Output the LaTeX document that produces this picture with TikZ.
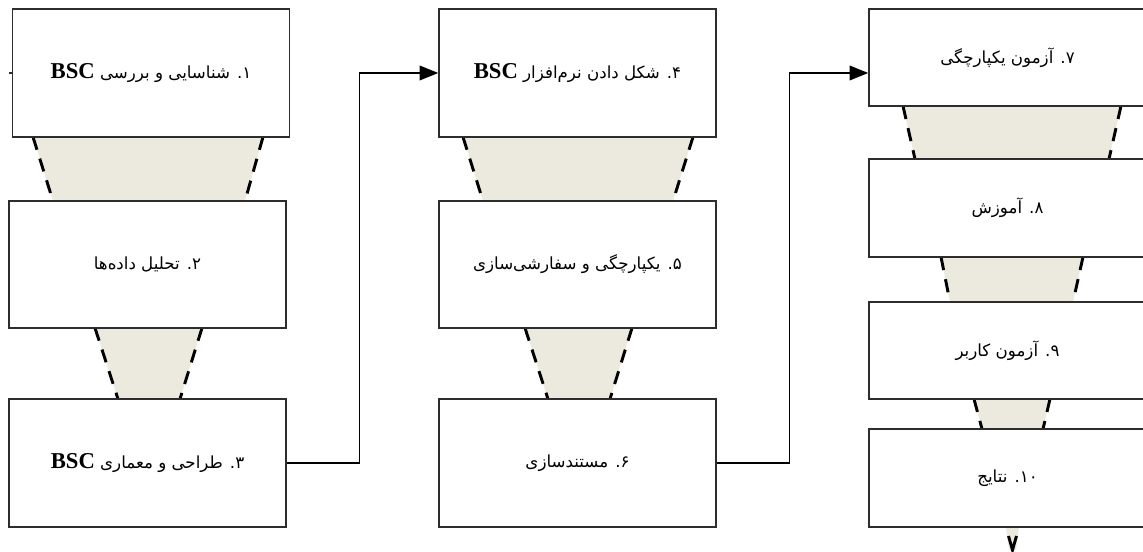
\documentclass[tikz,border=0pt]{standalone}
\usepackage{fontspec}
\usepackage{tikz}
\usetikzlibrary{arrows.meta,positioning,calc}
\TeXXeTstate=1
\newfontfamily\persianfont[Script=Arabic]{DejaVu Sans}
\newfontfamily\latinfont{Liberation Serif}
\newcommand\bsctext{{\latinfont\bfseries\fontsize{17}{19}\selectfont BSC}}
\definecolor{funnelfill}{RGB}{236,233,223}
\definecolor{boxline}{RGB}{45,45,45}
\tikzset{
    box/.style={draw=boxline, line width=1.1pt, fill=white, rectangle, minimum width=207.75pt, font=\persianfont\fontsize{12.5}{15}\selectfont},
    funnel/.style={fill=funnelfill, draw=none},
    funnelside/.style={draw=black, line width=2.2pt, dash pattern=on 10pt off 7pt},
    flow/.style={draw=black, line width=1.1pt, -{Triangle[length=14pt,width=11pt]}}
}

\begin{document}
\begin{tikzpicture}[x=0.75pt, y=-0.75pt]
    \clip (0,0) rectangle (1143,552);

    % funnels between the steps
    \fill [funnel] (33,137) -- (263,137) -- (245,201) -- (53,201) -- cycle;
    \draw [funnelside] (33,137) -- (53,201) (263,137) -- (245,201);
    \fill [funnel] (95,328) -- (202,328) -- (180,399) -- (118,399) -- cycle;
    \draw [funnelside] (95,328) -- (118,399) (202,328) -- (180,399);
    \fill [funnel] (463,137) -- (693,137) -- (673,201) -- (483,201) -- cycle;
    \draw [funnelside] (463,137) -- (483,201) (693,137) -- (673,201);
    \fill [funnel] (525,328) -- (632,328) -- (610,399) -- (548,399) -- cycle;
    \draw [funnelside] (525,328) -- (548,399) (632,328) -- (610,399);
    \fill [funnel] (903,106) -- (1121,106) -- (1109,159) -- (915,159) -- cycle;
    \draw [funnelside] (903,106) -- (915,159) (1121,106) -- (1109,159);
    \fill [funnel] (941,257) -- (1083,257) -- (1073,302) -- (950,302) -- cycle;
    \draw [funnelside] (941,257) -- (950,302) (1083,257) -- (1073,302);
    \fill [funnel] (974,399) -- (1050,399) -- (1043,429) -- (982,429) -- cycle;
    \draw [funnelside] (974,399) -- (982,429) (1050,399) -- (1043,429);
    \fill [funnel] (1006,527) -- (1019,527) -- (1016,550) -- (1009,550) -- cycle;
    \draw [line width=2.2pt] (1008.5,536) -- (1012.5,550) -- (1016.5,536);

    % steps
    \node (b1) [box, minimum height=96pt] at (151,73) {\beginR ۱. شناسایی و بررسی \bsctext\endR};
    \node (b2) [box, minimum height=95.25pt] at (147.5,264.5) {\beginR ۲. تحلیل داده‌ها\endR};
    \node (b3) [box, minimum height=96pt] at (147.5,463) {\beginR ۳. طراحی و معماری \bsctext\endR};
    \node (b4) [box, minimum height=96pt] at (577.5,73) {\beginR ۴. شکل دادن نرم‌افزار \bsctext\endR};
    \node (b5) [box, minimum height=95.25pt] at (577.5,264.5) {\beginR ۵. یکپارچگی و سفارشی‌سازی\endR};
    \node (b6) [box, minimum height=96pt] at (577.5,463) {\beginR ۶. مستندسازی\endR};
    \node (b7) [box, minimum height=72.75pt] at (1007.5,57.5) {\beginR ۷. آزمون یکپارچگی\endR};
    \node (b8) [box, minimum height=73.5pt] at (1007.5,208) {\beginR ۸. آموزش\endR};
    \node (b9) [box, minimum height=72.75pt] at (1007.5,350.5) {\beginR ۹. آزمون کاربر\endR};
    \node (b10) [box, minimum height=73.5pt] at (1007.5,478) {\beginR ۱۰. نتایج\endR};

    \draw [flow] (b3.east) -- ++(73,0) |- (b4.west);
    \draw [flow] (b6.east) -- ++(73,0) |- (b7.west |- b4.west);
    \draw [line width=1.1pt, draw=boxline] (b1.west) -- ++(-3,0);
\end{tikzpicture}
\end{document}
